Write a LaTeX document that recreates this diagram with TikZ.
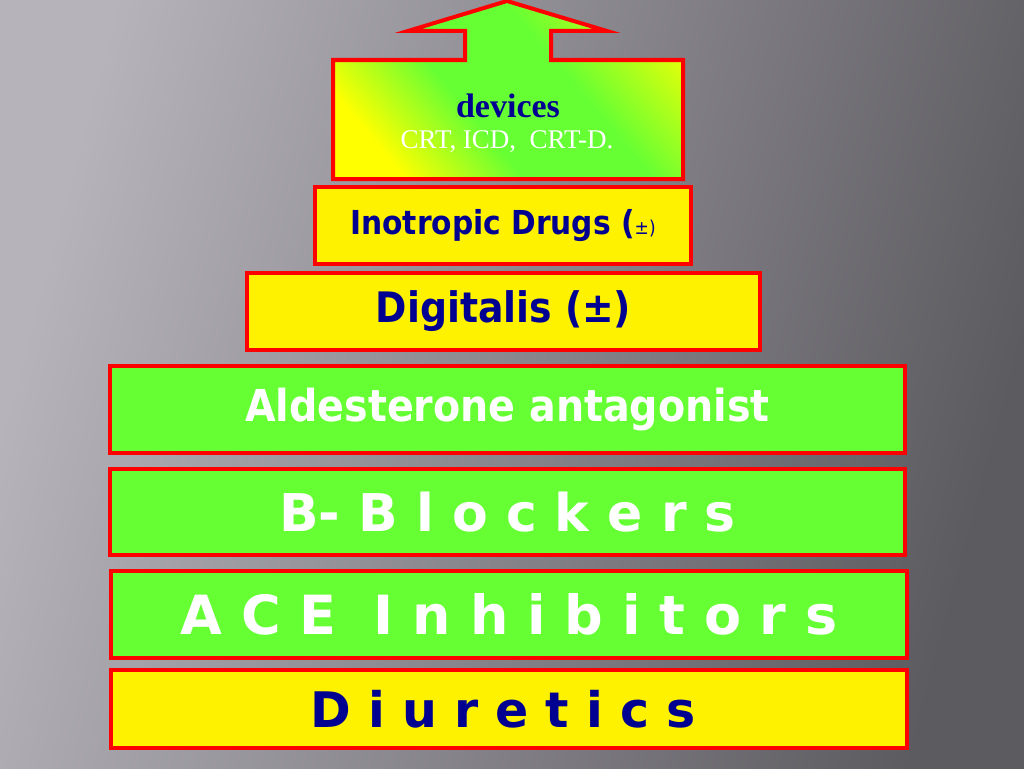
\documentclass[tikz,border=0pt]{standalone}
\usepackage{fontspec}
\setmainfont{Liberation Serif}
\newfontfamily\widefont{DejaVu Sans}
\newfontfamily\narrowfont{DejaVu Sans Condensed}
\usetikzlibrary{positioning}
\definecolor{slidegreen}{RGB}{102,255,51}
\definecolor{slideblue}{RGB}{0,0,145}
\definecolor{bglight}{RGB}{182,179,187}
\definecolor{bgdark}{RGB}{92,91,96}
\pgfdeclareverticalshading{devicesband}{100bp}{color(0bp)=(yellow); color(25bp)=(yellow); color(42bp)=(slidegreen); color(60bp)=(slidegreen); color(78bp)=(yellow!80!slidegreen); color(100bp)=(yellow)}
\tikzstyle{layer} = [rectangle, draw=red, line width=4pt, inner sep=0pt, text centered]
\tikzstyle{yellowlayer} = [layer, fill=yellow, text=slideblue]
\tikzstyle{greenlayer} = [layer, fill=slidegreen, text=white]

\begin{document}
\begin{tikzpicture}[x=1pt,y=-1pt]
          \shade[left color=bglight, right color=bgdark, shading angle=75] (0,0) rectangle (1024,768);
          \useasboundingbox (0,0) rectangle (1024,768);
          \shade[draw=red, line width=4pt, shading=devicesband, shading angle=-50]
            (333,60) -- (465,60) -- (465,31) -- (408,31) -- (507,1) -- (607,31) -- (551,31)
            -- (551,60) -- (683,60) -- (683,179) -- (333,179) -- cycle;
          \node (devices) [anchor=base, text=slideblue] at (508,117) {\fontsize{34}{36}\selectfont\bfseries devices};
          \node (crt) [anchor=base, text=white] at (507,148) {\fontsize{27}{29}\selectfont CRT, ICD,~ CRT-D.};
          \node (inotropic) [yellowlayer, minimum width=376pt, minimum height=77pt] at (503,225.5)
            {\narrowfont\bfseries\fontsize{33}{35}\selectfont Inotropic Drugs ({\mdseries\fontsize{19}{21}\selectfont ±)}};
          \node (digitalis) [yellowlayer, minimum width=513pt, minimum height=77pt] at (503.5,311.5)
            {\narrowfont\bfseries\fontsize{42}{44}\selectfont Digitalis (±)};
          \node (aldosterone) [greenlayer, minimum width=795pt, minimum height=87pt] at (507.5,409.5)
            {\narrowfont\bfseries\fontsize{44}{46}\selectfont Aldesterone antagonist};
          \node (blockers) [greenlayer, minimum width=795pt, minimum height=86pt] at (507.5,512)
            {\widefont\bfseries\fontsize{52}{54}\selectfont B- B l o c k e r s};
          \node (ace) [greenlayer, minimum width=796pt, minimum height=87pt] at (509,614.5)
            {\widefont\bfseries\fontsize{54}{56}\selectfont A C E \ I n h i b i t o r s};
          \node (diuretics) [yellowlayer, minimum width=796pt, minimum height=78pt] at (509,709)
            {\widefont\bfseries\fontsize{49}{51}\selectfont D i u r e t i c s\hspace*{12pt}};
        \end{tikzpicture}
\end{document}
